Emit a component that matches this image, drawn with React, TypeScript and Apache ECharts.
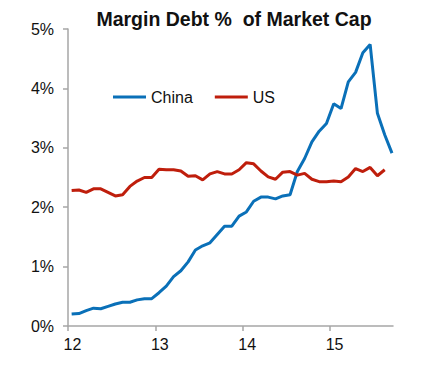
import React, { useEffect, useRef } from "react";
import * as echarts from "echarts";

// Monthly observations, Jan 2012 .. Sep 2015 (x axis in years "12".."15")
const START_YEAR = 12;
const seriesNames = ["China", "US"];
const chinaValues = [
  0.2, 0.21, 0.26, 0.3, 0.29, 0.33, 0.37, 0.4, 0.4, 0.44, 0.46, 0.46,
  0.56, 0.67, 0.83, 0.93, 1.08, 1.28, 1.35, 1.4, 1.54, 1.68, 1.68, 1.85,
  1.92, 2.1, 2.17, 2.17, 2.14, 2.19, 2.21, 2.6, 2.82, 3.1, 3.28, 3.41,
  3.74, 3.66, 4.11, 4.27, 4.6, 4.74, 3.58, 3.22, 2.91,
];
const usValues = [
  2.28, 2.29, 2.25, 2.31, 2.31, 2.25, 2.19, 2.21, 2.35, 2.44, 2.5, 2.5,
  2.64, 2.63, 2.63, 2.61, 2.52, 2.53, 2.46, 2.56, 2.6, 2.56, 2.56, 2.63,
  2.75, 2.73, 2.61, 2.51, 2.47, 2.59, 2.6, 2.54, 2.57, 2.47, 2.43, 2.43,
  2.44, 2.43, 2.51, 2.65, 2.6, 2.67, 2.53, 2.63,
];
const xTickValues = [12, 13, 14, 15];
const yTickValues = [0, 1, 2, 3, 4, 5];
const titleText = "Margin Debt %  of Market Cap";

const FONT = "'Liberation Sans', Arial, sans-serif";

const toPoints = (vals: number[]) =>
  vals.map((v, i) => [START_YEAR + (i + 0.5) / 12, v]);

export default function App() {
  const ref = useRef<HTMLDivElement>(null);
  useEffect(() => {
    if (!ref.current) return;
    const chart = echarts.init(ref.current, null, { renderer: "svg" });
    const axisColor = "#a6a6a6";
    chart.setOption({
      animation: false,
      backgroundColor: "#ffffff",
      graphic: [
        {
          type: "text",
          x: 234,
          y: 19,
          style: {
            text: titleText,
            font: `bold 19.5px ${FONT}`,
            fill: "#111111",
            textAlign: "center",
            textVerticalAlign: "middle",
          },
        },
      ],
      legend: {
        left: 108,
        top: 84,
        icon: "rect",
        itemWidth: 33,
        itemHeight: 3,
        itemGap: 22,
        textStyle: { fontFamily: FONT, fontSize: 16, color: "#111111" },
        data: seriesNames,
      },
      grid: { left: 68, right: 39, top: 29, bottom: 42, containLabel: false },
      xAxis: {
        type: "value",
        min: 12,
        max: 15.72,
        interval: 1,
        splitLine: { show: false },
        axisLine: { show: true, lineStyle: { color: axisColor, width: 1.5 } },
        axisTick: {
          show: true,
          length: 5,
          customValues: xTickValues,
          lineStyle: { color: axisColor, width: 1.5 },
        },
        axisLabel: {
          customValues: xTickValues,
          margin: 10,
          padding: [0, 0, 0, 9],
          fontFamily: FONT,
          fontSize: 16,
          color: "#111111",
          formatter: (v: number) => String(v),
        },
      },
      yAxis: {
        type: "value",
        min: 0,
        max: 5,
        interval: 1,
        splitLine: { show: false },
        axisLine: { show: true, lineStyle: { color: axisColor, width: 1.5 } },
        axisTick: {
          show: true,
          length: 5,
          customValues: yTickValues,
          lineStyle: { color: axisColor, width: 1.5 },
        },
        axisLabel: {
          customValues: yTickValues,
          margin: 14,
          fontFamily: FONT,
          fontSize: 16,
          color: "#111111",
          formatter: (v: number) => `${v}%`,
        },
      },
      series: [
        {
          name: seriesNames[0],
          type: "line",
          data: toPoints(chinaValues),
          showSymbol: false,
          symbol: "none",
          lineStyle: { color: "#0a70b8", width: 3 },
          itemStyle: { color: "#0a70b8" },
        },
        {
          name: seriesNames[1],
          type: "line",
          data: toPoints(usValues),
          showSymbol: false,
          symbol: "none",
          lineStyle: { color: "#bf1e0c", width: 3 },
          itemStyle: { color: "#bf1e0c" },
        },
      ],
    });
    return () => chart.dispose();
  }, []);
  return (
    <div
      ref={ref}
      style={{ position: "fixed", left: 0, top: 0, width: 432, height: 368 }}
    />
  );
}
